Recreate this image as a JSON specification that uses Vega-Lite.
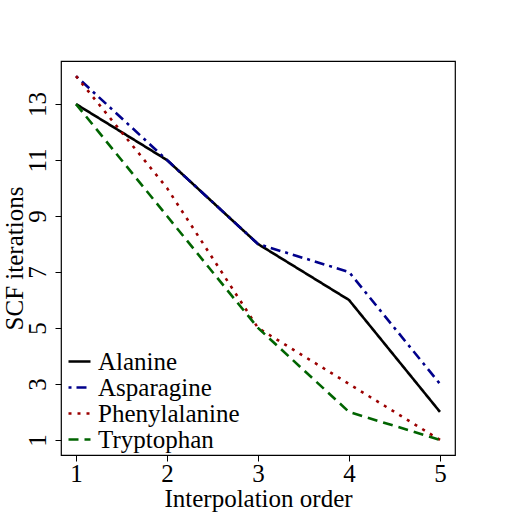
{
  "$schema": "https://vega.github.io/schema/vega-lite/v6.json",
  "width": 394,
  "height": 394,
  "autosize": {"type": "none"},
  "padding": {"left": 61, "top": 61, "right": 62, "bottom": 62},
  "background": "white",
  "config": {
    "font": "Liberation Serif",
    "view": {"stroke": "black", "strokeWidth": 1.2},
    "axis": {"grid": false, "domain": false, "tickColor": "black", "tickSize": 6, "labelColor": "black", "titleColor": "black", "labelFont": "Liberation Serif", "titleFont": "Liberation Serif", "labelFontSize": 25, "titleFontSize": 25, "titleFontWeight": "normal"}
  },
  "data": {"values": [
    {"order": 1, "iter": 13, "mol": "Alanine"},
    {"order": 2, "iter": 11, "mol": "Alanine"},
    {"order": 3, "iter": 8, "mol": "Alanine"},
    {"order": 4, "iter": 6, "mol": "Alanine"},
    {"order": 5, "iter": 2, "mol": "Alanine"},
    {"order": 1, "iter": 14, "mol": "Asparagine"},
    {"order": 2, "iter": 11, "mol": "Asparagine"},
    {"order": 3, "iter": 8, "mol": "Asparagine"},
    {"order": 4, "iter": 7, "mol": "Asparagine"},
    {"order": 5, "iter": 3, "mol": "Asparagine"},
    {"order": 1, "iter": 14, "mol": "Phenylalanine"},
    {"order": 2, "iter": 10, "mol": "Phenylalanine"},
    {"order": 3, "iter": 5, "mol": "Phenylalanine"},
    {"order": 4, "iter": 3, "mol": "Phenylalanine"},
    {"order": 5, "iter": 1, "mol": "Phenylalanine"},
    {"order": 1, "iter": 13, "mol": "Tryptophan"},
    {"order": 2, "iter": 9, "mol": "Tryptophan"},
    {"order": 3, "iter": 5, "mol": "Tryptophan"},
    {"order": 4, "iter": 2, "mol": "Tryptophan"},
    {"order": 5, "iter": 1, "mol": "Tryptophan"}
  ]},
  "mark": {"type": "line", "strokeWidth": 2.6},
  "encoding": {
    "x": {"field": "order", "type": "quantitative",
      "scale": {"domain": [0.835, 5.165], "nice": false, "zero": false},
      "axis": {"values": [1, 2, 3, 4, 5], "title": "Interpolation order", "labelPadding": 0, "titlePadding": 0}},
    "y": {"field": "iter", "type": "quantitative",
      "scale": {"domain": [0.46, 14.54], "nice": false, "zero": false},
      "axis": {"values": [1, 3, 5, 7, 9, 11, 13], "title": "SCF iterations", "labelAngle": 270, "labelAlign": "center", "labelBaseline": "bottom", "labelPadding": 5, "titleX": -34, "titleBaseline": "bottom"}},
    "color": {"field": "mol", "type": "nominal",
      "scale": {"domain": ["Alanine", "Asparagine", "Phenylalanine", "Tryptophan"], "range": ["#000000", "#00008B", "#9B0000", "#006400"]},
      "legend": {"title": null, "orient": "none", "legendX": 6, "legendY": 288, "symbolType": "stroke", "symbolStrokeWidth": 2.6, "symbolSize": 484, "labelFontSize": 25, "labelFont": "Liberation Serif", "labelColor": "black", "rowPadding": -1, "symbolOffset": 0, "labelOffset": 6, "padding": 0}},
    "strokeDash": {"field": "mol", "type": "nominal",
      "scale": {"domain": ["Alanine", "Asparagine", "Phenylalanine", "Tryptophan"], "range": [[1, 0], [3, 5, 10, 5], [3, 6], [10, 6]]},
      "legend": null},
    "order": {"field": "order"}
  }
}
